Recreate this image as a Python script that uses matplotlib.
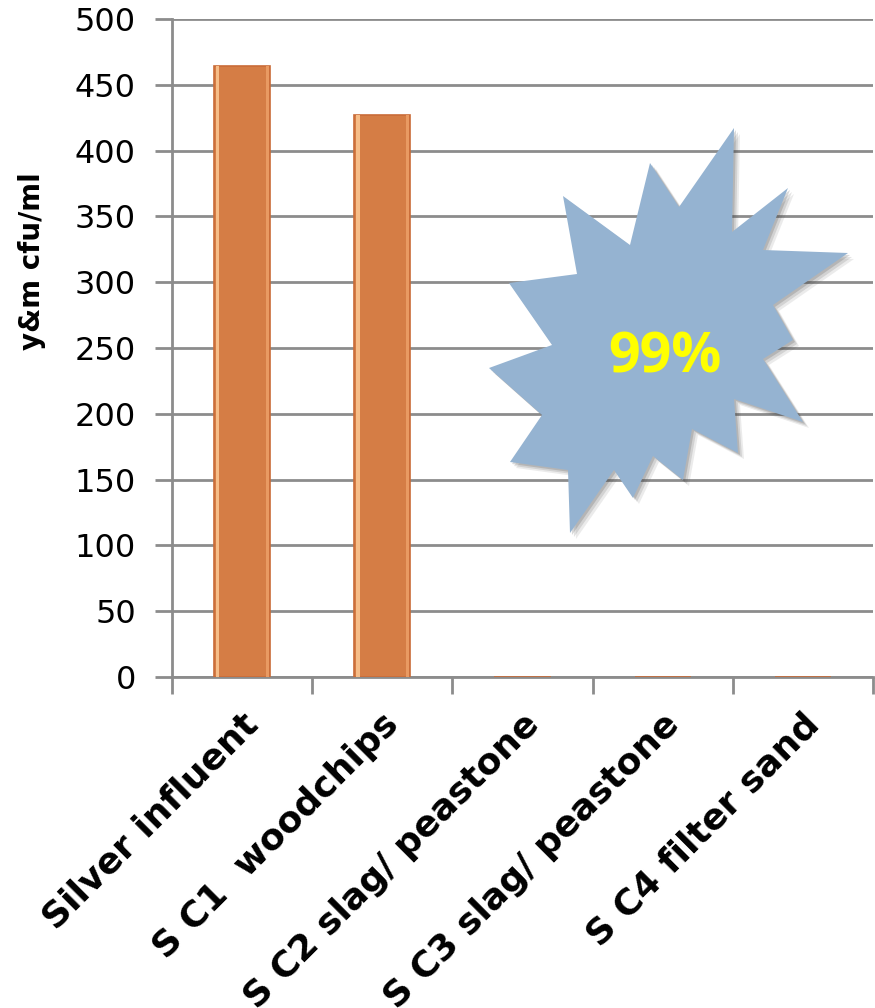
import matplotlib
matplotlib.use("Agg")
import matplotlib.pyplot as plt
from matplotlib.patches import Polygon
import numpy as np

# Yeast & mould counts per sample
categories = ["Silver influent", "S C1  woodchips", "S C2 slag/ peastone",
              "S C3 slag/ peastone", "S C4 filter sand"]
counts = [464, 427, 0, 0, 0]
y_ticks = [0, 50, 100, 150, 200, 250, 300, 350, 400, 450, 500]
callout_text = "99%"

# Starburst outline, in figure pixels measured from the top-left corner
burst_px = [(734, 128), (732, 232), (788, 188), (763, 250), (848, 253),
            (773, 305), (793, 340), (763, 359), (803, 422), (734, 399),
            (738, 453), (692, 429), (683, 480), (653, 456), (633, 498),
            (614, 470), (570, 533), (568, 470), (510, 462), (542, 415),
            (489, 368), (552, 345), (509, 283), (577, 274), (563, 196),
            (630, 245), (650, 163), (679, 207)]

W, H = 875, 1008
fig = plt.figure(figsize=(W / 100, H / 100), dpi=100)
ax = fig.add_axes([172 / W, 1 - 677 / H, (873 - 172) / W, (677 - 19) / H])

font = "DejaVu Sans"
grid_c = "#8c8c8c"

x = np.arange(len(categories))
bw = 0.4
ax.bar(x, counts, width=bw, color="#d57d45", edgecolor="#c96c38",
       linewidth=1.2, zorder=3)
# bevel highlights along the left and right edges
ax.bar(x - bw / 2 + 0.025, counts, width=0.025, color="#f6bd88",
       linewidth=0, zorder=4)
ax.bar(x + bw / 2 - 0.02, counts, width=0.02, color="#e99a62",
       linewidth=0, zorder=4)

ax.set_xlim(-0.5, len(categories) - 0.5)
ax.set_ylim(0, 500)
ax.set_yticks(y_ticks)
ax.set_yticklabels([str(v) for v in y_ticks], fontsize=23, family=font)
ax.yaxis.grid(True, color=grid_c, linewidth=2)
ax.set_axisbelow(True)

ax.set_xticks(np.arange(len(categories) + 1) - 0.5)
ax.set_xticklabels([])
ax.tick_params(axis="x", length=12, width=2, color=grid_c, direction="out")
ax.tick_params(axis="y", length=12, width=2, color=grid_c, direction="out",
               pad=14)
for i, name in enumerate(categories):
    ax.annotate(name, xy=(i, 0), xycoords=("data", "axes fraction"),
                xytext=(11, -42), textcoords="offset pixels",
                rotation=45, ha="right", va="center", rotation_mode="anchor",
                fontsize=26, fontweight="bold", family=font)

for s in ["top", "right"]:
    ax.spines[s].set_visible(False)
for s in ["left", "bottom"]:
    ax.spines[s].set_color(grid_c)
    ax.spines[s].set_linewidth(2)

fig.text(32 / W, 1 - 261 / H, "y&m cfu/ml", rotation=90, ha="center",
         va="center", fontsize=20, fontweight="bold", family=font)

# Starburst callout with soft drop shadow
pts = np.array([(px / W, 1 - py / H) for px, py in burst_px])
for k, a in [(6, 0.10), (4, 0.15), (2, 0.2)]:
    shadow = Polygon(pts + np.array([k / W, -k / H]), closed=True,
                     transform=fig.transFigure, facecolor="#444444", alpha=a,
                     edgecolor="none", zorder=5)
    fig.patches.append(shadow)
burst = Polygon(pts, closed=True, transform=fig.transFigure,
                facecolor="#95b3d1", edgecolor="none", zorder=6)
fig.patches.append(burst)
fig.text(665 / W, 1 - 358 / H, callout_text, ha="center", va="center",
         fontsize=40, fontweight="bold", color="#ffff00", family="Open Sans",
         zorder=7)

fig.savefig("out.png", dpi=100)
